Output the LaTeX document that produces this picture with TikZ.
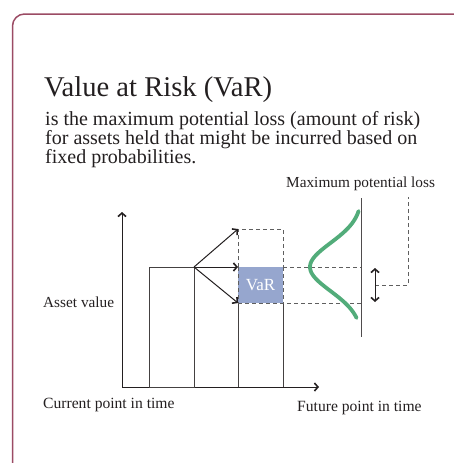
\documentclass[tikz,border=0pt]{standalone}
\usepackage{graphicx}
\usepackage{fontspec}
\setmainfont{Liberation Serif}
\usetikzlibrary{arrows.meta}
\definecolor{framecol}{RGB}{155,75,100}
\definecolor{varfill}{RGB}{150,166,206}
\definecolor{curvecol}{RGB}{82,172,122}
\definecolor{dashcol}{RGB}{95,95,95}
\definecolor{txt}{RGB}{35,31,32}
\newcommand{\bigtxt}[2]{\scalebox{#1}{\fontsize{10}{12}\selectfont #2}}
\begin{document}
\begin{tikzpicture}[x=1pt,y=-1pt,
  tip/.style={-{Straight Barb[length=3.5pt,width=8pt,line width=1.6pt]}},
  dtip/.style={{Straight Barb[length=3.5pt,width=8pt,line width=1.6pt]}-{Straight Barb[length=3.5pt,width=8pt,line width=1.6pt]}},
  axisline/.style={line width=1pt, draw=txt},
  boxline/.style={line width=0.9pt, draw=txt!85},
  dashline/.style={line width=0.9pt, draw=dashcol, dash pattern=on 4pt off 3pt},
  lbl/.style={anchor=base west, inner sep=0pt, text=txt},
]
\useasboundingbox (0,0) rectangle (453,463);
% frame
\draw[framecol, line width=1.5pt, rounded corners=12pt] (12.5,463) -- (12.5,14) -- (454,14);
% texts
\node[lbl] (title) at (44,96) {\bigtxt{2.86}{Value at Risk (VaR)}};
\node[lbl] (l1) at (45,125) {\bigtxt{2.0}{is the maximum potential loss (amount of risk)}};
\node[lbl] (l2) at (45,144) {\bigtxt{2.0}{for assets held that might be incurred based on}};
\node[lbl] (l3) at (45,163) {\bigtxt{2.0}{fixed probabilities.}};
\node[lbl] (mpl) at (286,187) {\bigtxt{1.53}{Maximum potential loss}};
\node[lbl] (asset) at (43,307) {\bigtxt{1.53}{Asset value}};
\node[lbl] (cur) at (43,408) {\bigtxt{1.56}{Current point in time}};
\node[lbl] (fut) at (297,411) {\bigtxt{1.56}{Future point in time}};
% coordinates
\coordinate (O) at (122,387);
\coordinate (Ytop) at (122,212);
\coordinate (Xend) at (319,387);
\coordinate (B1a) at (149,267);
\coordinate (B1b) at (194,387);
\coordinate (S) at (194,267);
\coordinate (Tup) at (238,229);
\coordinate (Tmid) at (238,267);
\coordinate (Tlow) at (238,303);
\coordinate (Rup) at (283,229);
\coordinate (Rmid) at (283,267);
\coordinate (Rlow) at (283,303);
\coordinate (Lbot) at (238,387);
\coordinate (Rbot) at (283,387);
\coordinate (Dtop) at (361,198);
\coordinate (Dbot) at (361,337);
\coordinate (Dmid) at (361,267);
\coordinate (Dlow) at (361,303);
\coordinate (Aup) at (375,268);
\coordinate (Alow) at (375,302);
\coordinate (Am) at (375,285);
\coordinate (Kc) at (408,285);
\coordinate (Kt) at (408,197);
% VaR box
\fill[varfill] (Tmid) rectangle (Rlow);
\node[text=white, inner sep=0pt] (var) at (260.5,285) {\bigtxt{1.7}{VaR}};
% axes
\draw[axisline, tip] (O) -- (Ytop);
\draw[axisline, tip] (O) -- (Xend);
% boxes
\draw[boxline] (B1a) rectangle (B1b);
\draw[boxline] (Tlow) -- (Lbot);
\draw[boxline] (Rlow) -- (Rbot);
% dashed
\draw[dashline] (Tmid) -- (Tup) -- (Rup) -- (Rmid);
\draw[dashline] (Tmid) -- (Tlow);
\draw[dashline] (Rmid) -- (Rlow);
\draw[dashline] (Rmid) -- (Dmid);
\draw[dashline] (Tlow) -- (Dlow);
\draw[dashline] (Am) -- (Kc) -- (Kt);
% arrows
\draw[axisline, tip] (S) -- (Tup);
\draw[axisline, tip] (S) -- (Tmid);
\draw[axisline, tip] (S) -- (Tlow);
% distribution
\draw[line width=1pt, draw=txt!80] (Dtop) -- (Dbot);
\draw[curvecol, line width=3.8pt, line cap=round] plot[domain=-56:51, samples=80, smooth] ({362-52*exp(-(\x*\x)/(2*24*24))},{267+\x});
\draw[axisline, dtip] (Aup) -- (Alow);
\end{tikzpicture}
\end{document}
